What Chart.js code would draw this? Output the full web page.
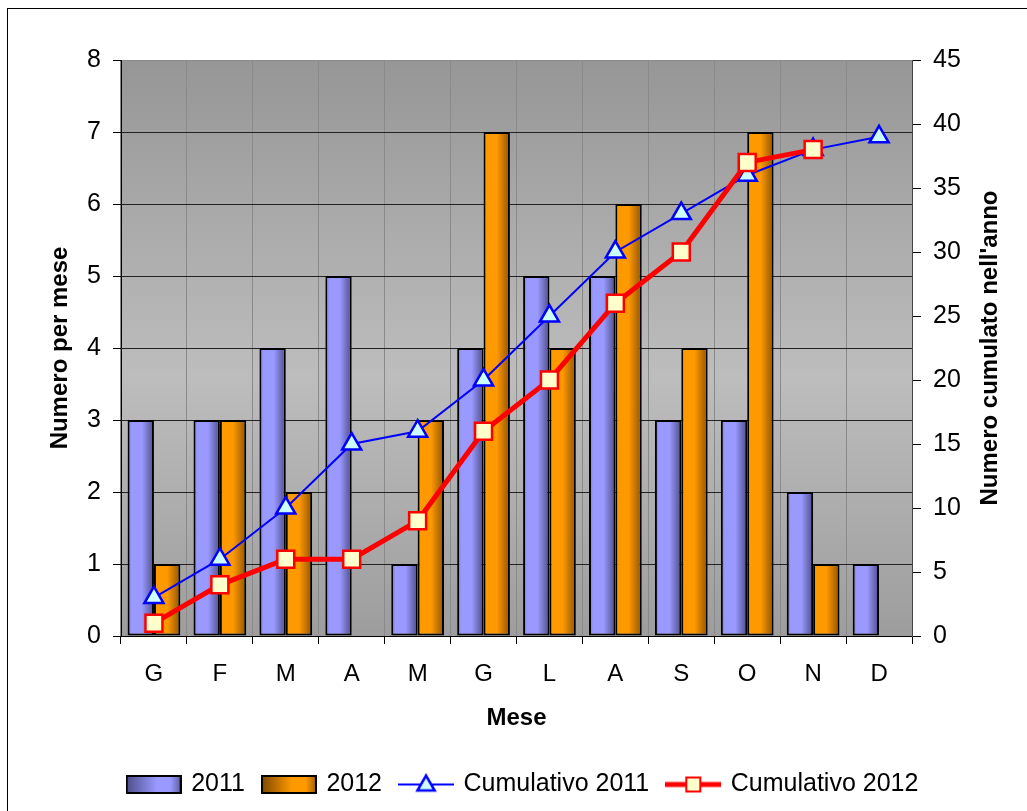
<!DOCTYPE html>
<html><head><meta charset="utf-8">
<script src="https://cdn.jsdelivr.net/npm/chart.js@4.4.1/dist/chart.umd.min.js"></script>
<style>
html,body{margin:0;padding:0;background:#fff;}
#wrap{position:relative;width:1027px;height:811px;overflow:hidden;}
#frame{position:absolute;left:7px;top:8px;width:1100px;height:900px;border:1px solid #000;box-sizing:border-box;pointer-events:none;}
canvas{position:absolute;left:0;top:0;}
</style></head><body>
<div id="wrap"><canvas id="c" width="1027" height="811"></canvas><div id="frame"></div></div>
<script>
// ---- data ----
const months = ['G','F','M','A','M','G','L','A','S','O','N','D'];
const seriesNames = ['2011','2012','Cumulativo 2011','Cumulativo 2012'];
const v2011 = [3,3,4,5,1,4,5,5,3,3,2,1];
const v2012 = [1,3,2,0,3,7,4,6,4,7,1,null];
const cum2011 = [3,6,10,15,16,20,25,30,33,36,38,39];
const cum2012 = [1,4,6,6,9,16,20,26,30,37,38,null];
const leftMax = 8, leftStep = 1;
const rightMax = 45, rightStep = 5;
const xTitle = 'Mese', leftTitle = 'Numero per mese', rightTitle = "Numero cumulato nell'anno";

const FONT = "'Liberation Sans', Arial, sans-serif";
Chart.defaults.font.family = FONT;
Chart.defaults.color = '#000';

const blueStops = [[0,'#7474c8'],[0.15,'#9999ff'],[0.55,'#9999ff'],[1,'#4d4d88']];
const orangeStops = [[0,'#f09000'],[0.1,'#ff9900'],[0.5,'#ff9900'],[1,'#8f5400']];
const blueLegStops = [[0,'#4d4d88'],[0.55,'#9999ff'],[0.8,'#9999ff'],[1,'#5a5a99']];
const orangeLegStops = [[0,'#7a4600'],[0.55,'#ff9900'],[0.8,'#ff9900'],[1,'#995c00']];

function barGrad(ctx, dsIndex, stops){
  const chart = ctx.chart; const xs = chart.scales.x;
  if (!xs || !chart.chartArea || ctx.dataIndex === undefined) return stops[1][1];
  const center = xs.getPixelForValue(ctx.dataIndex);
  const cat = (xs.right - xs.left) / months.length;
  const bw = cat * 0.8 / 2;
  const left = dsIndex === 0 ? center - bw : center;
  const g = chart.ctx.createLinearGradient(left, 0, left + bw, 0);
  stops.forEach(s => g.addColorStop(s[0], s[1]));
  return g;
}

function mk(w, h, draw){ const c = document.createElement('canvas'); c.width = w; c.height = h; draw(c.getContext('2d'), w, h); return c; }
function boxImg(stops){
  return mk(56, 19, (g, w, h) => {
    const gr = g.createLinearGradient(0,0,w,0); stops.forEach(s => gr.addColorStop(s[0], s[1]));
    g.fillStyle = gr; g.fillRect(0,0,w,h);
    g.strokeStyle = '#000'; g.lineWidth = 2; g.strokeRect(1,1,w-2,h-2);
  });
}
const legendImgs = [
  boxImg(blueLegStops),
  boxImg(orangeLegStops),
  mk(56, 26, (g, w, h) => {
    g.strokeStyle = '#0000ff'; g.lineWidth = 2; g.beginPath(); g.moveTo(0,13); g.lineTo(w,13); g.stroke();
    const r = 10, cx = 28, cy = 14;
    g.beginPath();
    g.moveTo(cx, cy - r);
    g.lineTo(cx + r*Math.sin(Math.PI*2/3), cy - r*Math.cos(Math.PI*2/3));
    g.lineTo(cx + r*Math.sin(Math.PI*4/3), cy - r*Math.cos(Math.PI*4/3));
    g.closePath();
    g.fillStyle = '#ccffff'; g.fill(); g.lineWidth = 2.5; g.stroke();
  }),
  mk(56, 26, (g, w, h) => {
    g.strokeStyle = '#ff0000'; g.lineWidth = 5; g.beginPath(); g.moveTo(0,13); g.lineTo(w,13); g.stroke();
    g.fillStyle = '#ffffcc'; g.fillRect(21,6,14,14);
    g.lineWidth = 2; g.strokeRect(21,6,14,14);
  })
];

const bgPlugin = {
  id: 'bg',
  afterLayout(chart){
    if (chart.legend) { chart.legend.left += 10; chart.legend.right += 10; }
  },
  beforeDraw(chart){
    const {ctx, chartArea: a} = chart;
    const g = ctx.createLinearGradient(0, a.top, 0, a.bottom);
    g.addColorStop(0, '#969696'); g.addColorStop(0.55, '#bdbdbd'); g.addColorStop(1, '#9d9d9d');
    ctx.save(); ctx.fillStyle = g; ctx.fillRect(a.left, a.top, a.right - a.left, a.bottom - a.top); ctx.restore();
  },
  afterDraw(chart){
    const {ctx, chartArea: a} = chart;
    ctx.save();
    ctx.translate(990, (a.top + a.bottom) / 2);
    ctx.rotate(-Math.PI / 2);
    ctx.font = 'bold 24px ' + FONT;
    ctx.fillStyle = '#000'; ctx.textAlign = 'center'; ctx.textBaseline = 'middle';
    ctx.fillText(rightTitle, 0, 0);
    ctx.restore();
  }
};

new Chart(document.getElementById('c'), {
  data: {
    labels: months,
    datasets: [
      { type: 'bar', label: seriesNames[0], data: v2011, yAxisID: 'y', order: 3,
        backgroundColor: ctx => barGrad(ctx, 0, blueStops), borderColor: '#000', borderWidth: 2, borderSkipped: false,
        categoryPercentage: 0.8, barPercentage: 1.0 },
      { type: 'bar', label: seriesNames[1], data: v2012, yAxisID: 'y', order: 3,
        backgroundColor: ctx => barGrad(ctx, 1, orangeStops), borderColor: '#000', borderWidth: 2, borderSkipped: false,
        categoryPercentage: 0.8, barPercentage: 1.0 },
      { type: 'line', label: seriesNames[2], data: cum2011, yAxisID: 'y1', order: 1,
        borderColor: '#0000ff', borderWidth: 2, tension: 0, fill: false,
        pointStyle: 'triangle', pointRadius: 11, pointBackgroundColor: '#ccffff', pointBorderColor: '#0000ff', pointBorderWidth: 2.5 },
      { type: 'line', label: seriesNames[3], data: cum2012, yAxisID: 'y1', order: 0,
        borderColor: '#ff0000', borderWidth: 5, tension: 0, fill: false, spanGaps: false,
        pointStyle: 'rect', pointRadius: 12, pointBackgroundColor: '#ffffcc', pointBorderColor: '#ff0000', pointBorderWidth: 2.5 }
    ]
  },
  options: {
    responsive: false, animation: false,
    layout: { padding: { top: 60, left: 0, right: 0, bottom: 4 } },
    plugins: {
      tooltip: { enabled: false },
      legend: {
        position: 'bottom',
        labels: {
          usePointStyle: true, pointStyleWidth: 50, padding: 19,
          font: { size: 25 }, color: '#000',
          sort: (a, b) => a.datasetIndex - b.datasetIndex,
          generateLabels(chart){
            const items = Chart.defaults.plugins.legend.labels.generateLabels(chart);
            items.forEach(it => { it.pointStyle = legendImgs[it.datasetIndex]; it.rotation = 0; });
            return items;
          }
        }
      }
    },
    scales: {
      x: {
        type: 'category', offset: true,
        grid: { offset: true, color: '#8a8a8a', tickColor: '#000', tickLength: 8 },
        border: { color: '#000' },
        ticks: { font: { size: 24 }, color: '#000', padding: 16, maxRotation: 0, autoSkip: false },
        title: { display: true, text: xTitle, font: { size: 24, weight: 'bold' }, color: '#000', padding: { top: 0, bottom: 20 } },
        afterFit(s){ s.height = 117; }
      },
      y: {
        position: 'left', min: 0, max: leftMax,
        ticks: { stepSize: leftStep, font: { size: 25 }, color: '#000', padding: 12 },
        grid: { color: c => c.tick && c.tick.value === leftMax ? '#8a8a8a' : '#222', tickColor: '#000', tickLength: 8 },
        border: { color: '#000' },
        title: { display: true, text: leftTitle, font: { size: 24, weight: 'bold' }, color: '#000', padding: { top: 46, bottom: 0 } },
        afterFit(s){ s.width = 121; }
      },
      y1: {
        position: 'right', min: 0, max: rightMax,
        ticks: { stepSize: rightStep, font: { size: 25 }, color: '#000', padding: 12 },
        grid: { drawOnChartArea: false, tickColor: '#000', tickLength: 9 },
        border: { color: '#444' },
        afterFit(s){ s.width = 115; }
      }
    }
  },
  plugins: [bgPlugin]
});
</script>
</body></html>
